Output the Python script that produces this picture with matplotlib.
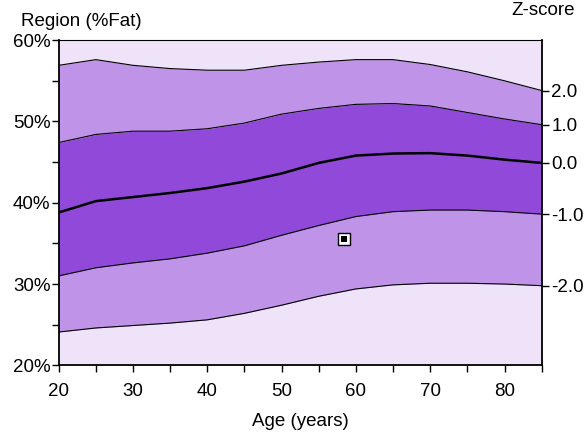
"""Body composition reference chart: regional %Fat by age with Z-score bands."""

import matplotlib
matplotlib.use("Agg")
import matplotlib.pyplot as plt
from matplotlib.ticker import MultipleLocator, FuncFormatter

plt.rcParams['font.family'] = ['Liberation Sans', 'DejaVu Sans']

# reference curves (percent fat)
ages = [20, 25, 30, 35, 40, 45, 50, 55, 60, 65, 70, 75, 80, 85]
z_plus2 = [56.9, 57.6, 56.9, 56.5, 56.3, 56.3, 56.9, 57.3, 57.6, 57.6, 57.0, 56.1, 55.0, 53.8]
z_plus1 = [47.4, 48.4, 48.8, 48.8, 49.1, 49.8, 50.9, 51.6, 52.1, 52.2, 51.9, 51.1, 50.3, 49.6]
z_zero = [38.8, 40.2, 40.7, 41.2, 41.8, 42.6, 43.6, 44.9, 45.8, 46.05, 46.1, 45.8, 45.3, 44.9]
z_minus1 = [31.0, 32.0, 32.6, 33.1, 33.8, 34.7, 36.0, 37.2, 38.3, 38.9, 39.1, 39.1, 38.9, 38.6]
z_minus2 = [24.1, 24.6, 24.9, 25.2, 25.6, 26.4, 27.4, 28.5, 29.4, 29.9, 30.1, 30.1, 30.0, 29.8]
z_labels = ["2.0", "1.0", "0.0", "-1.0", "-2.0"]

# the patient's measurement
patient_age = 58.4
patient_fat = 35.6

LIGHT = '#efe3fa'
MID = '#bf93e8'
DARK = '#9149d9'
FS = 13.5

fig = plt.figure(figsize=(5.84, 4.36), dpi=100)
ax = fig.add_axes([0.1005, 0.162, 0.827, 0.746])
ax.set_facecolor(LIGHT)

ax.fill_between(ages, z_minus2, z_minus1, color=MID, lw=0)
ax.fill_between(ages, z_minus1, z_plus1, color=DARK, lw=0)
ax.fill_between(ages, z_plus1, z_plus2, color=MID, lw=0)
for curve in (z_plus2, z_plus1, z_minus1, z_minus2):
    ax.plot(ages, curve, color='black', lw=0.8)
ax.plot(ages, z_zero, color='black', lw=1.8)

# measurement marker: white box with a black centre
ax.plot(patient_age, patient_fat, marker='s', ms=9, mfc='white', mec='black', mew=1.0)
ax.plot(patient_age, patient_fat, marker='s', ms=4.5, mfc='black', mec='black', mew=0)

ax.set_xlim(20, 85)
ax.set_ylim(20, 60)
ax.xaxis.set_major_locator(MultipleLocator(10))
ax.xaxis.set_minor_locator(MultipleLocator(5))
ax.yaxis.set_major_locator(MultipleLocator(10))
ax.yaxis.set_minor_locator(MultipleLocator(5))
ax.yaxis.set_major_formatter(FuncFormatter(lambda v, _: f"{v:.0f}%"))
ax.tick_params(which='both', direction='out', length=5, width=1, labelsize=FS, color='black')
ax.tick_params(axis='x', pad=8)
ax.tick_params(axis='y', pad=1)

for name, spine in ax.spines.items():
    spine.set_color('black')
    spine.set_linewidth(0.8 if name == 'top' else 1.3)

# right axis with Z-score ticks at the curve ends
ax2 = ax.twinx()
ax2.set_ylim(ax.get_ylim())
ends = [z_plus2[-1], z_plus1[-1], z_zero[-1], z_minus1[-1], z_minus2[-1]]
ax2.set_yticks(ends)
ax2.set_yticklabels(z_labels)
ax2.tick_params(direction='out', length=5, width=1, labelsize=FS, pad=2)
for spine in ax2.spines.values():
    spine.set_visible(False)

ax.set_xlabel('Age (years)', fontsize=FS, labelpad=9)
fig.text(0.036, 0.951, 'Region (%Fat)', fontsize=FS, ha='left', va='center')
fig.text(0.985, 0.975, 'Z-score', fontsize=FS, ha='right', va='center')

fig.savefig('out.png', dpi=100)
